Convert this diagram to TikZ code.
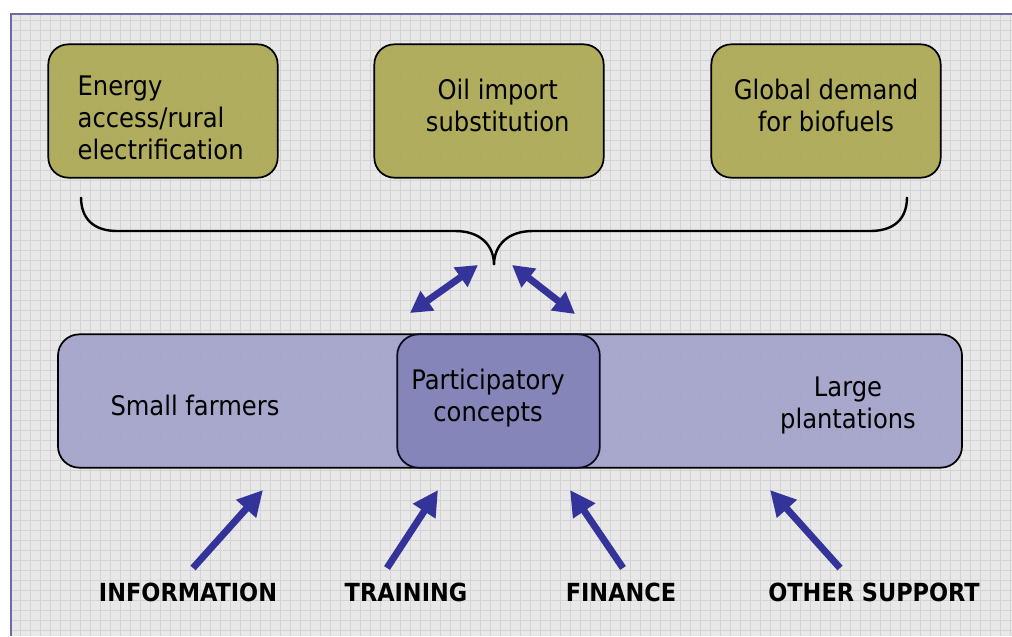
\documentclass[tikz,border=0pt]{standalone}
\usepackage{fontspec}
\setsansfont{DejaVu Sans Condensed}
\usetikzlibrary{arrows.meta,positioning}

\definecolor{frameblue}{HTML}{6C6CA4}
\definecolor{gridbg}{HTML}{E8E8E8}
\definecolor{gridline}{HTML}{D3D3D3}
\definecolor{olivebox}{HTML}{A9A74C}
\definecolor{lilacbox}{HTML}{A0A0CA}
\definecolor{purplebox}{HTML}{8080B6}
\definecolor{arrowblue}{HTML}{333399}

% text block inside a driver box: top gap, alignment, lines
\newcommand{\boxlines}[3]{\parbox[c][100pt][t]{172pt}{#2\vspace*{#1}\strut #3}}

\begin{document}
\begin{tikzpicture}[x=0.75pt,y=-0.75pt,
        txt/.style={font=\sffamily\fontsize{20.2}{24}\selectfont,align=center},
        label text/.style={font=\sffamily\bfseries\fontsize{18.7}{22}\selectfont},
        driver box/.style={txt,rectangle,rounded corners=15pt,draw=black,line width=1.3pt,
            fill=olivebox,fill opacity=0.88,text opacity=1,inner sep=0pt,minimum width=172pt,minimum height=100pt},
        actor box/.style={rectangle,rounded corners=16pt,draw=black,line width=1.3pt,
            fill=lilacbox,fill opacity=0.88,minimum width=678pt,minimum height=100pt},
        mid box/.style={rectangle,rounded corners=16pt,draw=black!80!arrowblue,line width=1.3pt,
            fill=purplebox,fill opacity=0.85,minimum width=152pt,minimum height=100pt},
        push/.style={-{Triangle[length=19pt,width=19pt]},line width=5.2pt,draw=arrowblue},
        link/.style={{Triangle[length=16pt,width=17pt]}-{Triangle[length=16pt,width=17pt]},line width=5.2pt,draw=arrowblue}]
        \useasboundingbox (0,0) rectangle (1012,636);
        % background sheet
        \fill[gridbg] (11,14) rectangle (1012,636);
        \foreach \gx in {20,30,...,1010} \draw[gridline,line width=0.5pt] (\gx,15) -- (\gx,636);
        \foreach \gy in {20,30,...,630} \draw[gridline,line width=0.5pt] (12,\gy) -- (1012,\gy);
        \draw[frameblue,line width=2.2pt] (11,636) -- (11,14) -- (1012,14);

        % drivers
        \node[driver box] (energy) at (163,111)
            {\boxlines{21.5pt}{\raggedright\leftskip=22pt}{Energy\\access/rural\\electrification}};
        \node[driver box] (oil) at (489,111)
            {\boxlines{24.5pt}{\centering\leftskip=13pt plus 1fil}{Oil import\\substitution}};
        \node[driver box] (global) at (826,111)
            {\boxlines{24.5pt}{\centering}{Global demand\\for biofuels}};

        % brace
        \draw[line width=1.8pt] (81,197) .. controls (81,220) and (95,231) .. (117,231) -- (455,231)
            .. controls (480,231) and (494,245) .. (494,265)
            .. controls (494,245) and (508,231) .. (533,231) -- (870,231)
            .. controls (893,231) and (907,220) .. (907,197);

        % actors
        \node[actor box] (actors) at (510,401) {};
        \node[mid box] (partic) at (498.5,401) {};
        \node[txt] (partic text) at (488,398) {Participatory\\concepts};
        \node[txt] (small) at (195,405) {Small farmers};
        \node[txt] (large) at (848,405) {Large\\plantations};

        % support
        \node[label text] (info) at (188,592) {INFORMATION};
        \node[label text] (train) at (406,592) {TRAINING};
        \node[label text] (fin) at (621,592) {FINANCE};
        \node[label text] (other) at (874,592) {OTHER SUPPORT};

        \coordinate (l1) at (410,313); \coordinate (l2) at (478,265);
        \coordinate (r1) at (512,265); \coordinate (r2) at (575,314);
        \coordinate (info top) at (193,568); \coordinate (info tip) at (263,490);
        \coordinate (train top) at (387,568); \coordinate (train tip) at (438,490);
        \coordinate (fin top) at (623,568); \coordinate (fin tip) at (570,490);
        \coordinate (other top) at (840,568); \coordinate (other tip) at (770,490);

        \path
        (l1) edge[link] (l2)
        (r1) edge[link] (r2)
        (info top) edge[push] (info tip)
        (train top) edge[push] (train tip)
        (fin top) edge[push] (fin tip)
        (other top) edge[push] (other tip)
        ;
\end{tikzpicture}
\end{document}
